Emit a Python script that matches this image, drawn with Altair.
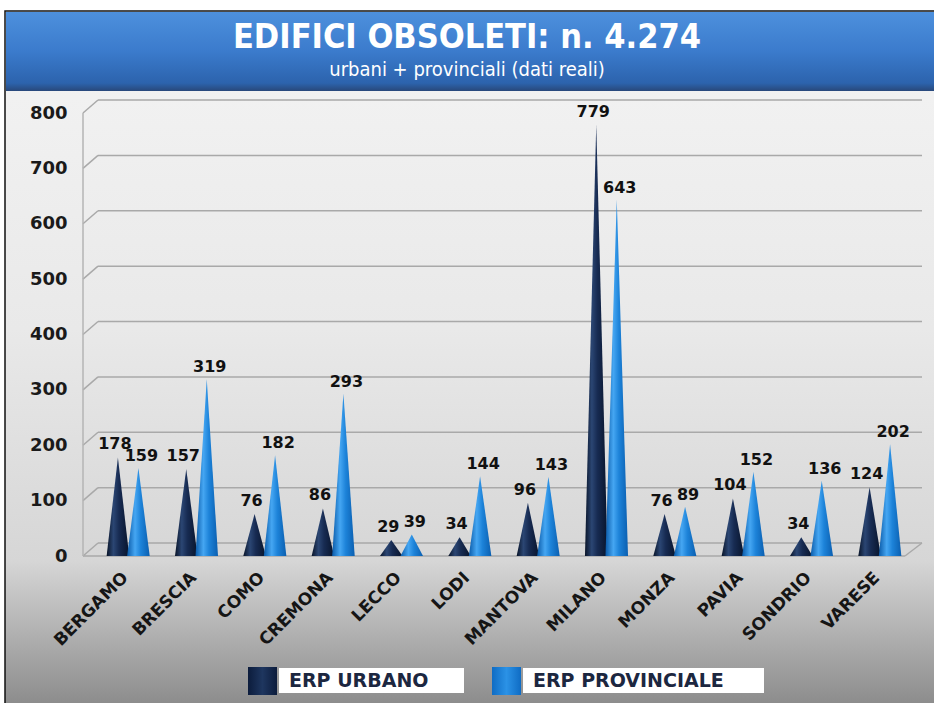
import altair as alt
import pandas as pd

# ---------------- data ----------------
provinces = ["BERGAMO", "BRESCIA", "COMO", "CREMONA", "LECCO", "LODI",
             "MANTOVA", "MILANO", "MONZA", "PAVIA", "SONDRIO", "VARESE"]
erp_urbano = [178, 157, 76, 86, 29, 34, 96, 779, 76, 104, 34, 124]
erp_provinciale = [159, 319, 182, 293, 39, 144, 143, 643, 89, 152, 136, 202]
series_names = ["ERP URBANO", "ERP PROVINCIALE"]
y_ticks = [0, 100, 200, 300, 400, 500, 600, 700, 800]
title_text = "EDIFICI OBSOLETI: n. 4.274"
subtitle_text = "urbani + provinciali (dati reali)"

# ---------------- layout ----------------
W, H = 820, 443
PAD = {"left": 94, "top": 113, "right": 20, "bottom": 147}
OFFSET = 0.15    # cone centre offset from category centre (index units)
HALF = 0.165     # half base width of a cone (index units)
DY = 13          # 3D depth of the back wall (pixels)

FONT = "DejaVu Sans"
TFONT = "DejaVu Sans Condensed, Liberation Sans Narrow, DejaVu Sans"

cone_rows, label_rows = [], []
for s_idx, (name, vals) in enumerate(zip(series_names, [erp_urbano, erp_provinciale])):
    off = -OFFSET if s_idx == 0 else OFFSET
    for i, (p, v) in enumerate(zip(provinces, vals)):
        c = i + off
        cid = f"{name}|{p}"
        cone_rows += [
            {"series": name, "cone": cid, "x": c - HALF, "y": 0},
            {"series": name, "cone": cid, "x": c, "y": v},
            {"series": name, "cone": cid, "x": c + HALF, "y": 0},
        ]
        label_rows.append({"series": name, "x": c, "y": v, "label": str(v)})

cones = pd.DataFrame(cone_rows)
labels = pd.DataFrame(label_rows)
ticks = pd.DataFrame({"t": y_ticks})
one = pd.DataFrame({"k": [0]})

label_expr = "[" + ",".join(f"'{p}'" for p in provinces) + "][datum.value]"

xscale = alt.Scale(domain=[-0.5, len(provinces) - 0.5], nice=False, zero=False)
yscale = alt.Scale(domain=[0, 800], nice=False)


def grad(stops, vertical=False):
    return alt.Gradient(
        gradient="linear",
        stops=[alt.GradientStop(color=c, offset=o) for o, c in stops],
        x1=0, x2=0 if vertical else 1, y1=0, y2=1 if vertical else 0,
    )


dark_grad = grad([(0, "#091428"), (0.3, "#2b4673"), (0.55, "#172b52"), (1, "#08142b")])
light_grad = grad([(0, "#0a5aa8"), (0.35, "#45a6f2"), (0.6, "#1d83d9"), (1, "#0b5fb0")])

# background panel
bg = alt.Chart(one).mark_rect(
    fill=grad([(0, "#f4f4f4"), (0.45, "#e9e9e9"), (0.78, "#d6d6d6"),
               (0.86, "#b9b9b9"), (1, "#868686")], vertical=True),
    stroke="#111111", strokeWidth=1.5,
).encode(x=alt.value(-89), x2=alt.value(W + 30), y=alt.value(-102), y2=alt.value(H + 160))

banner = alt.Chart(one).mark_rect(
    fill=grad([(0, "#4d90dd"), (0.5, "#3b7bcc"), (0.9, "#2c63ad"), (1, "#28487a")], vertical=True),
).encode(x=alt.value(-88), x2=alt.value(W + 30), y=alt.value(-101), y2=alt.value(-22))

title = alt.Chart(one).mark_text(
    text=title_text, font=TFONT, fontSize=34, fontWeight="bold", color="white",
    align="center", baseline="middle",
).encode(x=alt.value(373), y=alt.value(-75))

subtitle = alt.Chart(one).mark_text(
    text=subtitle_text, font=TFONT, fontSize=20, color="white",
    align="center", baseline="middle",
).encode(x=alt.value(373), y=alt.value(-43))

# 3D wall: gridlines on back wall + slanted connectors
grid = alt.Chart(ticks).mark_rule(color="#a9a9a9", strokeWidth=1.5, yOffset=-DY).encode(
    y=alt.Y("t:Q", scale=yscale), x=alt.value(4), x2=alt.value(W + 8))
slant = alt.Chart(ticks).mark_rule(color="#a9a9a9", strokeWidth=1.5, y2Offset=-DY).encode(
    y=alt.Y("t:Q", scale=yscale), y2="t:Q", x=alt.value(-11), x2=alt.value(4))
floor_front = alt.Chart(ticks).transform_filter("datum.t == 0").mark_rule(
    color="#a9a9a9", strokeWidth=1.5).encode(
    y=alt.Y("t:Q", scale=yscale), x=alt.value(-11), x2=alt.value(W - 9))
floor_side = alt.Chart(ticks).transform_filter("datum.t == 0").mark_rule(
    color="#a9a9a9", strokeWidth=1.5, y2Offset=-DY).encode(
    y=alt.Y("t:Q", scale=yscale), y2="t:Q", x=alt.value(W - 9), x2=alt.value(W + 8))
left_edge = alt.Chart(ticks).transform_aggregate(lo="min(t)", hi="max(t)").mark_rule(
    color="#b5b5b5", strokeWidth=1.5).encode(
    y=alt.Y("lo:Q", scale=yscale), y2="hi:Q", x=alt.value(-11))

x_axis = alt.Axis(values=list(range(len(provinces))), labelExpr=label_expr, title=None,
                  labelAngle=315, labelFont=FONT, labelFontSize=17, labelFontWeight="bold",
                  labelColor="#151515", labelPadding=13, labelOffset=-9,
                  labelOverlap=False, labelBound=False,
                  domain=False, ticks=False, grid=False, zindex=1)
y_axis = alt.Axis(values=y_ticks, title=None, labelFont=FONT, labelFontSize=18,
                  labelFontWeight="bold", labelColor="#1a1a1a", labelPadding=27,
                  domain=False, ticks=False, grid=False, zindex=1)

cone_dark = alt.Chart(cones).transform_filter(
    alt.datum.series == series_names[0]).mark_area(fill=dark_grad, opacity=1, line=False).encode(
    x=alt.X("x:Q", scale=xscale, axis=x_axis),
    y=alt.Y("y:Q", scale=yscale, axis=y_axis, stack=None),
    detail="cone:N")
cone_light = alt.Chart(cones).transform_filter(
    alt.datum.series == series_names[1]).mark_area(fill=light_grad, opacity=1, line=False).encode(
    x=alt.X("x:Q", scale=xscale), y=alt.Y("y:Q", scale=yscale, stack=None),
    detail="cone:N")

label_dark = alt.Chart(labels).transform_filter(
    alt.datum.series == series_names[0]).mark_text(
    font=FONT, fontSize=16, fontWeight="bold", color="#111111",
    align="center", baseline="bottom", dy=-5, dx=-3,
).encode(x=alt.X("x:Q", scale=xscale), y=alt.Y("y:Q", scale=yscale), text="label:N")
label_light = alt.Chart(labels).transform_filter(
    alt.datum.series == series_names[1]).mark_text(
    font=FONT, fontSize=16, fontWeight="bold", color="#111111",
    align="center", baseline="bottom", dy=-4, dx=3,
).encode(x=alt.X("x:Q", scale=xscale), y=alt.Y("y:Q", scale=yscale), text="label:N")

# legend
leg_layers = []
for name, gfill, x0 in [(series_names[0], grad([(0, "#0c1c3c"), (0.5, "#1e365f"), (1, "#0c1c3c")]), 154),
                        (series_names[1], grad([(0, "#0f6cc4"), (0.5, "#2b92e6"), (1, "#0f6cc4")]), 398)]:
    ldata = pd.DataFrame({"s": [name]})
    box_w = 185 if name == series_names[0] else 241
    leg_layers.append(alt.Chart(ldata).mark_rect(fill=gfill).encode(
        x=alt.value(x0), x2=alt.value(x0 + 29), y=alt.value(554), y2=alt.value(582)))
    leg_layers.append(alt.Chart(ldata).mark_rect(fill="white").encode(
        x=alt.value(x0 + 31), x2=alt.value(x0 + 31 + box_w), y=alt.value(555), y2=alt.value(580)))
    leg_layers.append(alt.Chart(ldata).mark_text(
        font=FONT, fontSize=19, fontWeight="bold", color="#1c2740",
        align="left", baseline="middle").encode(
        x=alt.value(x0 + 41), y=alt.value(568), text="s:N"))

chart = alt.layer(
    bg, banner, title, subtitle, grid, slant, floor_front, floor_side, left_edge,
    cone_dark, cone_light, label_dark, label_light, *leg_layers,
).properties(
    width=W, height=H, padding=PAD,
    autosize=alt.AutoSizeParams(type="none"),
    background="white",
).configure_view(stroke=None)

chart.save("out.html", embed_options={"renderer": "svg", "actions": False})
